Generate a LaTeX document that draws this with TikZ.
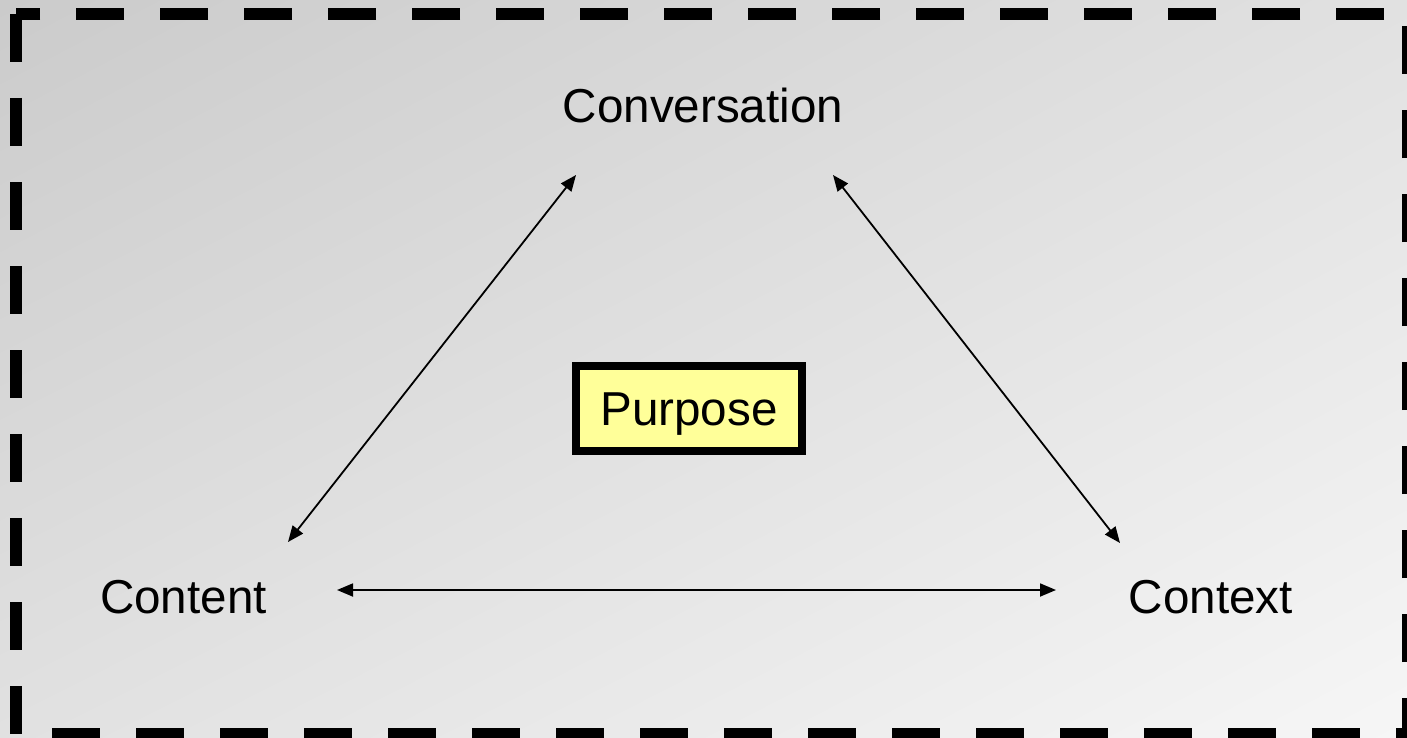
\documentclass[tikz,border=0pt]{standalone}
\usepackage{fontspec}
\setmainfont{Liberation Sans}
\usetikzlibrary{arrows.meta,shadings}

\definecolor{bgdark}{RGB}{203,203,203}
\definecolor{bgmid}{RGB}{225,225,225}
\definecolor{bglight}{RGB}{246,246,246}
\definecolor{purposefill}{RGB}{255,255,153}

\tikzset{
  term/.style={anchor=base,inner sep=0pt,font=\fontsize{23.8}{28}\selectfont},
  link/.style={{Triangle[length=8pt,width=6.5pt]}-{Triangle[length=8pt,width=6.5pt]},draw=black,line width=0.9pt},
}

\begin{document}
\begin{tikzpicture}[x=0.5pt,y=0.5pt]
\shade[upper left=bgdark,upper right=bgmid,lower left=bgmid,lower right=bglight] (0,0) rectangle (1407,-738);
\useasboundingbox (0,0) rectangle (1407,-738);
\begin{scope}
\clip (0,0) rectangle (1407,-738);
\draw[line width=6pt,dash pattern=on 24pt off 18pt] (16,-14) -- (16,-734) -- (1408,-734) -- (1408,-14) -- (16,-14);
\end{scope}

\node[term] (conversation) at (703,-122) {Conversation};
\node[term] (content) at (183.5,-613) {Content};
\node[term] (context) at (1211,-613) {Context};
\node[draw=black,fill=purposefill,line width=4pt,minimum width=113pt,minimum height=42.5pt,text height=17pt,text depth=0pt,inner sep=0pt,font=\fontsize{23.8}{28}\selectfont] (purpose) at (689,-408.5) {Purpose};

\coordinate (content-up) at (288,-542);
\coordinate (conversation-left) at (576,-175);
\coordinate (conversation-right) at (833,-175);
\coordinate (context-up) at (1120,-543);
\coordinate (content-right) at (337,-590);
\coordinate (context-left) at (1056,-590);

\draw [link] (content-up) -- (conversation-left);
\draw [link] (conversation-right) -- (context-up);
\draw [link] (content-right) -- (context-left);
\end{tikzpicture}
\end{document}
